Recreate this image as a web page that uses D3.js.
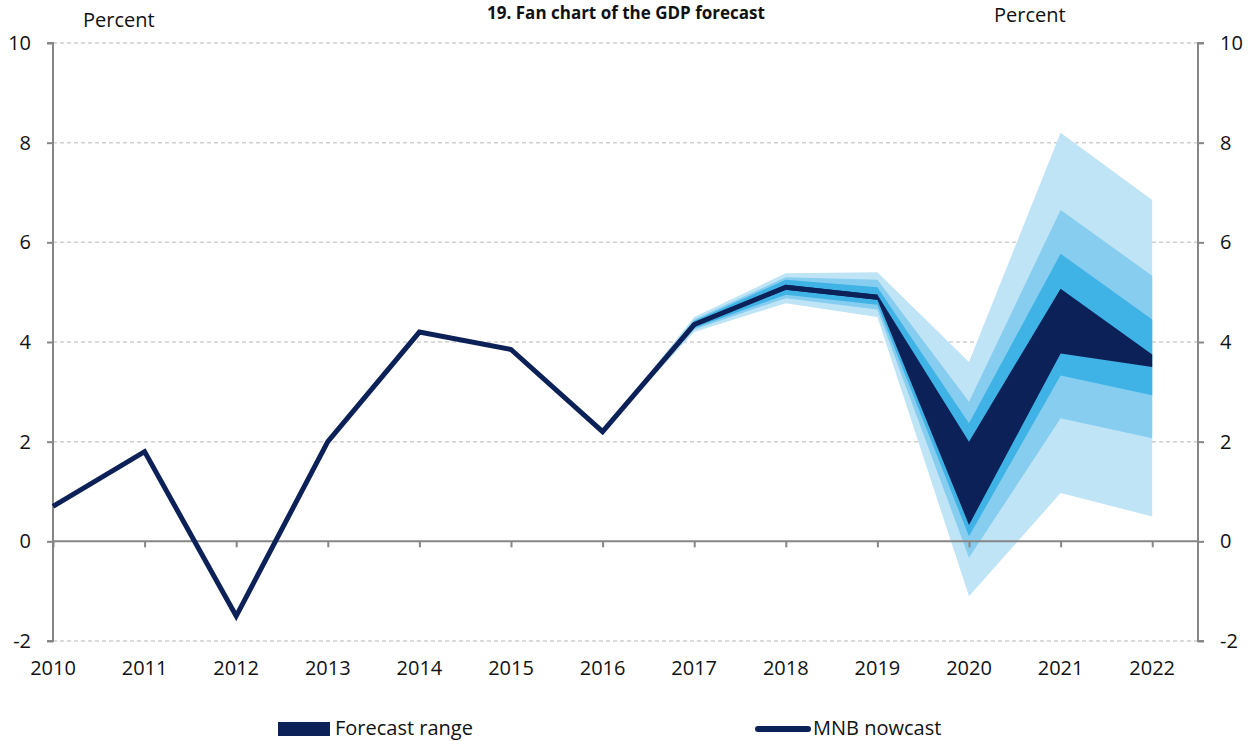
<!DOCTYPE html>
<html>
<head>
<meta charset="utf-8">
<script src="https://cdn.jsdelivr.net/npm/d3@7"></script>
<style>
  html, body { margin: 0; padding: 0; background: #fff; }
  svg { display: block; font-family: "Open Sans", sans-serif; }
</style>
</head>
<body>
<svg id="chart" width="1248" height="741"></svg>
<script>
const years = [2010, 2011, 2012, 2013, 2014, 2015, 2016, 2017, 2018, 2019, 2020, 2021, 2022];
const nowcastYears = [2010, 2011, 2012, 2013, 2014, 2015, 2016, 2017, 2018, 2019];
const nowcast = [0.7, 1.8, -1.5, 2.0, 4.2, 3.85, 2.2, 4.35, 5.1, 4.9];

// fan chart bands (lower / upper bound per year)
const fanYears = [2016, 2017, 2018, 2019, 2020, 2021, 2022];
const lightLow  = [2.2, 4.2, 4.78, 4.5, -1.1, 0.97, 0.5];
const lightHigh = [2.2, 4.5, 5.38, 5.4, 3.6, 8.2, 6.85];
const midLow    = [2.2, 4.25, 4.88, 4.65, -0.33, 2.47, 2.07];
const midHigh   = [2.2, 4.45, 5.3, 5.25, 2.8, 6.65, 5.33];
const blueLow   = [2.2, 4.28, 4.95, 4.75, 0.1, 3.33, 2.93];
const blueHigh  = [2.2, 4.42, 5.25, 5.1, 2.37, 5.77, 4.45];
const darkLow   = [2.2, 4.32, 5.05, 4.85, 0.33, 3.77, 3.5];
const darkHigh  = [2.2, 4.38, 5.15, 4.95, 2.0, 5.07, 3.75];

const yTicks = [-2, 0, 2, 4, 6, 8, 10];

const navy = '#0c2158';
const svg = d3.select('#chart');

const x = d3.scaleLinear().domain([2010, 2022.5]).range([53, 1198]);
const y = d3.scaleLinear().domain([-2, 10]).range([641, 43]);

// gridlines
svg.append('g').selectAll('line').data(yTicks.filter(d => d !== 0)).join('line')
  .attr('x1', x(2010)).attr('x2', x(2022.5))
  .attr('y1', d => y(d)).attr('y2', d => y(d))
  .attr('stroke', '#cfcfcf')
  .attr('stroke-width', 1.5)
  .attr('stroke-dasharray', '4,3');

// fan bands
const bands = [
  { lo: lightLow, hi: lightHigh, color: '#bfe4f6' },
  { lo: midLow, hi: midHigh, color: '#86cdef' },
  { lo: blueLow, hi: blueHigh, color: '#3fb3e6' },
  { lo: darkLow, hi: darkHigh, color: navy }
];
const area = d3.area()
  .x(d => x(d.year))
  .y0(d => y(d.lo))
  .y1(d => y(d.hi));

bands.forEach(b => {
  const data = fanYears.map((yr, i) => ({ year: yr, lo: b.lo[i], hi: b.hi[i] }));
  svg.append('path').datum(data).attr('d', area).attr('fill', b.color);
});

// axes
const axisColor = '#868686';
const fmt = d => String(d);
const leftAxis = svg.append('g')
  .attr('transform', `translate(${x(2010)},0)`)
  .call(d3.axisLeft(y).tickValues(yTicks).tickSize(6).tickPadding(16).tickFormat(fmt));
const rightAxis = svg.append('g')
  .attr('transform', `translate(${x(2022.5)},0)`)
  .call(d3.axisRight(y).tickValues(yTicks).tickSize(6).tickPadding(16).tickFormat(fmt));
const bottomAxis = svg.append('g')
  .attr('transform', `translate(0,${y(0)})`)
  .call(d3.axisBottom(x).tickValues(years).tickSize(6).tickFormat(''));

[leftAxis, rightAxis, bottomAxis].forEach(g => {
  g.select('.domain').attr('stroke', axisColor).attr('stroke-width', 2);
  g.selectAll('.tick line').attr('stroke', axisColor).attr('stroke-width', 2);
  g.selectAll('.tick text').attr('fill', '#111').attr('font-size', 20)
    .attr('font-family', '"Open Sans", sans-serif');
});
leftAxis.select('.domain').attr('d', `M-6,${y(10)}H0V${y(-2)}H-6`);
rightAxis.select('.domain').attr('d', `M6,${y(10)}H0V${y(-2)}H6`);
bottomAxis.select('.domain').attr('d', `M${x(2010)},0H${x(2022.5)}`);

// x labels
svg.append('g').selectAll('text').data(years).join('text')
  .attr('x', d => x(d))
  .attr('y', 675)
  .attr('text-anchor', 'middle')
  .attr('font-size', 20)
  .attr('fill', '#111')
  .text(d => d);

// nowcast line
const line = d3.line().x(d => x(d[0])).y(d => y(d[1]));
svg.append('path')
  .datum(nowcastYears.map((yr, i) => [yr, nowcast[i]]))
  .attr('d', line)
  .attr('fill', 'none')
  .attr('stroke', navy)
  .attr('stroke-width', 5)
  .attr('stroke-linejoin', 'miter');

// titles
svg.append('text').attr('x', 626).attr('y', 19).attr('text-anchor', 'middle')
  .attr('font-size', 17).attr('font-weight', 'bold').attr('fill', '#111')
  .text('19. Fan chart of the GDP forecast');
svg.append('text').attr('x', 83).attr('y', 27).attr('font-size', 20).attr('fill', '#111').text('Percent');
svg.append('text').attr('x', 994).attr('y', 22).attr('font-size', 20).attr('fill', '#111').text('Percent');

// legend
svg.append('rect').attr('x', 278).attr('y', 722).attr('width', 52).attr('height', 14).attr('fill', navy);
svg.append('text').attr('x', 335).attr('y', 735).attr('font-size', 20).attr('fill', '#111').text('Forecast range');
svg.append('line').attr('x1', 758).attr('x2', 808).attr('y1', 729).attr('y2', 729)
  .attr('stroke', navy).attr('stroke-width', 6).attr('stroke-linecap', 'round');
svg.append('text').attr('x', 813).attr('y', 735).attr('font-size', 20).attr('fill', '#111').text('MNB nowcast');
</script>
</body>
</html>
